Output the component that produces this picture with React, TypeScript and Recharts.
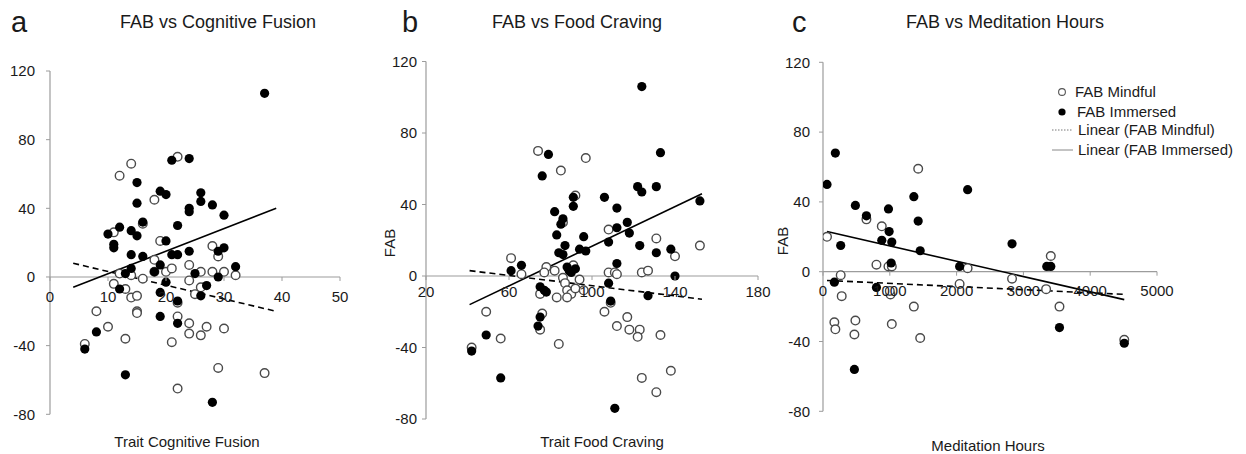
import React from "react";
import { ReferenceLine, Scatter, ScatterChart, XAxis, YAxis } from "recharts";

type Pair = [number, number];

const FONT = '"Liberation Sans", Arial, sans-serif';
const AXIS_GREY = "#9c9c9c";
const H = 454;
const X_AXIS_H = 30;

const fabTicks = [-80, -40, 0, 40, 80, 120];

// a: trait cognitive fusion
const fusionTicks = [0, 10, 20, 30, 40, 50];
const fusionMindful: Pair[] = [
  [22, 70], [14, 66], [12, 59], [18, 45], [16, 31], [11, 26], [19, 21], [28, 18], [29, 12],
  [18, 10], [12, 2], [14, 1], [16, -1], [11, -4], [13, -7], [14, -12], [15, -11], [20, 3],
  [18, 3], [21, 5], [24, 7], [26, 3], [28, 3], [30, 3], [32, 1], [24, -2], [25, -10], [26, -6],
  [22, -15], [8, -20], [15, -20], [15, -21], [22, -23], [10, -29], [24, -27], [24, -33],
  [26, -34], [27, -29], [30, -30], [13, -36], [21, -38], [6, -39], [29, -53], [37, -56], [22, -65],
];
const fusionImmersed: Pair[] = [
  [21, 68], [24, 69], [15, 55], [19, 50], [20, 48], [15, 43], [26, 49], [26, 44], [28, 42],
  [24, 40], [24, 38], [30, 36], [16, 32], [12, 29], [10, 25], [14, 27], [15, 24], [22, 30],
  [11, 19], [11, 17], [20, 21], [14, 13], [16, 12], [21, 13], [22, 13], [24, 15], [29, 15],
  [30, 17], [32, 6], [14, 5], [13, 2], [18, 3], [19, 7], [25, 2], [29, 0], [20, -3], [27, -5],
  [12, -7], [26, -11], [19, -9], [22, -14], [19, -23], [22, -27], [8, -32], [6, -42], [13, -57],
  [28, -73], [37, 107],
];
const fusionMindfulFit: Pair[] = [[4, 8], [39, -20]];
const fusionImmersedFit: Pair[] = [[4, -6], [39, 40]];

// b: trait food craving
const cravingTicks = [20, 60, 100, 140, 180];
const cravingMindful: Pair[] = [
  [74, 70], [97, 66], [85, 59], [92, 45], [86, 30], [108, 26], [131, 21], [152, 17], [140, 11],
  [61, 10], [66, 1], [78, 5], [82, 3], [77, 2], [91, 6], [94, -2], [86, -1], [87, -4], [88, -8],
  [90, -10], [88, -12], [92, -7], [96, -8], [83, -12], [75, -10], [108, 2], [111, 2], [112, 1],
  [124, 2], [127, 3], [109, -15], [106, -20], [49, -20], [76, -21], [75, -30], [112, -28],
  [117, -23], [118, -30], [123, -30], [122, -34], [133, -33], [56, -35], [42, -40], [84, -38],
  [124, -57], [138, -53], [131, -65],
];
const cravingImmersed: Pair[] = [
  [79, 68], [133, 69], [76, 56], [91, 44], [91, 39], [106, 44], [112, 38], [122, 50], [124, 47],
  [131, 50], [152, 42], [82, 36], [86, 32], [85, 29], [83, 23], [96, 22], [108, 19], [112, 27],
  [117, 30], [118, 24], [123, 17], [131, 13], [138, 15], [87, 17], [84, 13], [86, 12], [94, 15],
  [97, 14], [66, 6], [61, 3], [88, 5], [89, 3], [92, 4], [90, 2], [112, 7], [140, 0], [108, -4],
  [109, -14], [127, -11], [75, -6], [77, -8], [78, -9], [75, -23], [74, -28], [49, -33],
  [42, -42], [56, -57], [111, -74], [124, 106],
];
const cravingMindfulFit: Pair[] = [[41, 3], [153, -13]];
const cravingImmersedFit: Pair[] = [[41, -16], [153, 46]];

// c: meditation hours
const hoursTicks = [0, 1000, 2000, 3000, 4000, 5000];
const hoursMindful: Pair[] = [
  [1425, 59], [650, 30], [880, 26], [60, 20], [800, 4], [980, 3], [1030, 3], [2165, 2],
  [3410, 9], [265, -2], [2830, -4], [2045, -7], [3340, -10], [1010, -13], [1000, -11],
  [280, -14], [1360, -20], [3540, -20], [170, -29], [185, -33], [485, -28], [1030, -30],
  [470, -36], [1455, -38], [4510, -39],
];
const hoursImmersed: Pair[] = [
  [185, 68], [60, 50], [485, 38], [650, 32], [980, 36], [1360, 43], [2165, 47], [1425, 29],
  [990, 23], [880, 18], [1030, 17], [1455, 12], [265, 15], [2830, 16], [1020, 5], [2045, 3],
  [3350, 3], [3410, 3], [170, -6], [800, -9], [3540, -32], [4510, -41], [470, -56],
];
const hoursMindfulFit: Pair[] = [[60, -5], [4510, -13]];
const hoursImmersedFit: Pair[] = [[60, 23], [4510, -16]];

const toPts = (arr: Pair[]) => arr.map(([x, y]) => ({ x, y }));

const OpenDot = (p: any) => (
  <circle cx={p.cx} cy={p.cy} r={4.3} fill="#fff" stroke="#4a4a4a" strokeWidth={1.4} />
);
const FilledDot = (p: any) => <circle cx={p.cx} cy={p.cy} r={4.6} fill="#000" />;
const NoDot = () => <g />;

type PanelProps = {
  left: number;
  width: number;
  plotLeft: number;
  plotRight: number;
  top: number;
  bottom: number;
  xTicks: number[];
  mindful: Pair[];
  immersed: Pair[];
  mindfulFit: Pair[];
  immersedFit: Pair[];
  labelDy: number;
  yTickMargin: number;
};

function Panel(p: PanelProps) {
  const yAxisW = 40;
  const margin = {
    top: p.top,
    bottom: H - p.bottom - X_AXIS_H,
    left: p.plotLeft - p.left - yAxisW,
    right: p.left + p.width - p.plotRight,
  };
  // x axis crosses at FAB = 0
  const zeroY = p.top + ((p.bottom - p.top) * 120) / 200;
  const XTick = (t: any) => (
    <g>
      <line x1={t.x} x2={t.x} y1={zeroY} y2={zeroY + 4} stroke={AXIS_GREY} />
      <text
        x={t.x}
        y={zeroY + p.labelDy}
        textAnchor="middle"
        fontSize={15}
        fill="#1a1a1a"
        fontFamily={FONT}
      >
        {t.payload.value}
      </text>
    </g>
  );
  return (
    <div style={{ position: "absolute", left: p.left, top: 0 }}>
      <ScatterChart width={p.width} height={H} margin={margin}>
        <XAxis
          type="number"
          dataKey="x"
          domain={[p.xTicks[0], p.xTicks[p.xTicks.length - 1]]}
          ticks={p.xTicks}
          interval={0}
          height={X_AXIS_H}
          axisLine={false}
          tickLine={false}
          tick={XTick}
          allowDataOverflow
        />
        <YAxis
          type="number"
          dataKey="y"
          domain={[-80, 120]}
          ticks={fabTicks}
          interval={0}
          width={yAxisW}
          axisLine={{ stroke: AXIS_GREY, strokeWidth: 1.2 }}
          tickLine={{ stroke: AXIS_GREY }}
          tickSize={4}
          tickMargin={p.yTickMargin}
          tick={{ fill: "#1a1a1a", fontSize: 15, fontFamily: FONT }}
        />
        <ReferenceLine y={0} stroke={AXIS_GREY} strokeWidth={1.2} />
        <Scatter
          data={toPts(p.mindfulFit)}
          line={{ stroke: "#000", strokeWidth: 1.6, strokeDasharray: "6 4" }}
          shape={NoDot}
          isAnimationActive={false}
        />
        <Scatter
          data={toPts(p.immersedFit)}
          line={{ stroke: "#000", strokeWidth: 1.6 }}
          shape={NoDot}
          isAnimationActive={false}
        />
        <Scatter data={toPts(p.mindful)} shape={OpenDot} isAnimationActive={false} />
        <Scatter data={toPts(p.immersed)} shape={FilledDot} isAnimationActive={false} />
      </ScatterChart>
    </div>
  );
}

const textStyle = { fontFamily: FONT, fill: "#1a1a1a" };

export default function App() {
  return (
    <div
      style={{
        position: "absolute",
        left: 0,
        top: 0,
        width: 1246,
        height: H,
        background: "#fff",
        overflow: "hidden",
      }}
    >
      <Panel
        left={0}
        width={390}
        plotLeft={50}
        plotRight={340}
        top={71}
        bottom={414.3}
        xTicks={fusionTicks}
        mindful={fusionMindful}
        immersed={fusionImmersed}
        mindfulFit={fusionMindfulFit}
        immersedFit={fusionImmersedFit}
        labelDy={25}
        yTickMargin={11}
      />
      <Panel
        left={370}
        width={410}
        plotLeft={426}
        plotRight={758}
        top={61.5}
        bottom={419}
        xTicks={cravingTicks}
        mindful={cravingMindful}
        immersed={cravingImmersed}
        mindfulFit={cravingMindfulFit}
        immersedFit={cravingImmersedFit}
        labelDy={21}
        yTickMargin={5}
      />
      <Panel
        left={770}
        width={476}
        plotLeft={823}
        plotRight={1157}
        top={62.3}
        bottom={411.3}
        xTicks={hoursTicks}
        mindful={hoursMindful}
        immersed={hoursImmersed}
        mindfulFit={hoursMindfulFit}
        immersedFit={hoursImmersedFit}
        labelDy={24}
        yTickMargin={9}
      />
      <svg
        width={1246}
        height={H}
        style={{ position: "absolute", left: 0, top: 0, pointerEvents: "none" }}
      >
        <text x={11} y={32} fontSize={29} {...textStyle}>a</text>
        <text x={402} y={32} fontSize={29} {...textStyle}>b</text>
        <text x={792} y={32} fontSize={29} {...textStyle}>c</text>
        <text x={120} y={28} fontSize={18} {...textStyle}>FAB vs Cognitive Fusion</text>
        <text x={492} y={28} fontSize={18} {...textStyle}>FAB vs Food Craving</text>
        <text x={906} y={28} fontSize={18} {...textStyle}>FAB vs Meditation Hours</text>

        <text x={187} y={447} fontSize={15} textAnchor="middle" {...textStyle}>Trait Cognitive Fusion</text>
        <text x={602} y={447} fontSize={15} textAnchor="middle" {...textStyle}>Trait Food Craving</text>
        <text x={988} y={451} fontSize={15} textAnchor="middle" {...textStyle}>Meditation Hours</text>
        <text
          x={0}
          y={0}
          fontSize={15}
          textAnchor="middle"
          dominantBaseline="central"
          transform="translate(389 243) rotate(-90)"
          {...textStyle}
        >
          FAB
        </text>
        <text
          x={0}
          y={0}
          fontSize={15}
          textAnchor="middle"
          dominantBaseline="central"
          transform="translate(782 241) rotate(-90)"
          {...textStyle}
        >
          FAB
        </text>

        {/* legend */}
        <circle cx={1062} cy={92} r={3.4} fill="#fff" stroke="#555" strokeWidth={1.1} />
        <text x={1075} y={97} fontSize={15} {...textStyle}>FAB Mindful</text>
        <circle cx={1062} cy={112} r={3.6} fill="#000" />
        <text x={1077} y={117} fontSize={15} {...textStyle}>FAB Immersed</text>
        <line x1={1052} x2={1073} y1={130} y2={130} stroke="#777" strokeWidth={1} strokeDasharray="1.5 1.5" />
        <text x={1078} y={135} fontSize={15} {...textStyle}>Linear (FAB Mindful)</text>
        <line x1={1052} x2={1073} y1={150} y2={150} stroke="#888" strokeWidth={1} />
        <text x={1078} y={155} fontSize={15} {...textStyle}>Linear (FAB Immersed)</text>
      </svg>
    </div>
  );
}
